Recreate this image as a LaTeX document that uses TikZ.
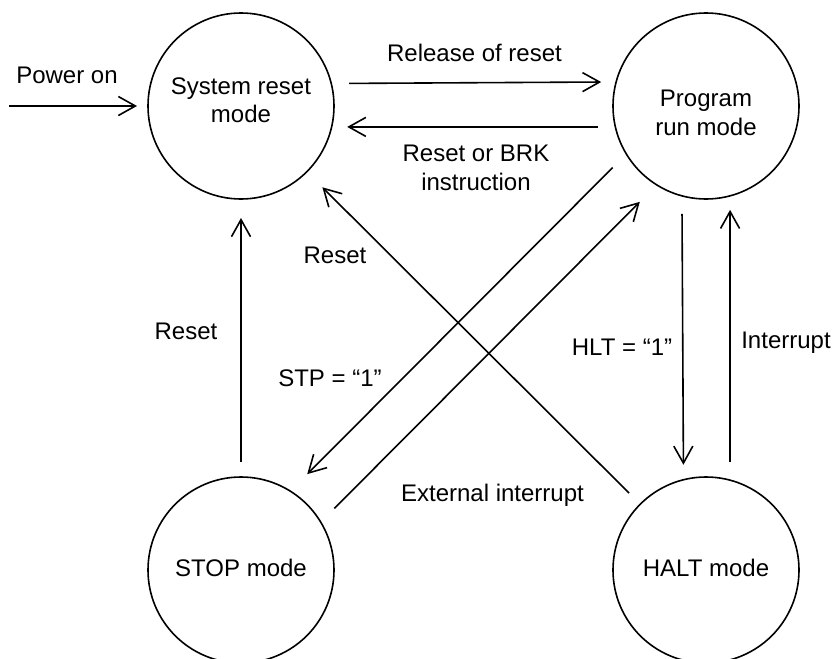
\documentclass[tikz,border=0pt]{standalone}
\usepackage{fontspec}
\setmainfont{Liberation Sans}
\usetikzlibrary{arrows.meta}
\begin{document}
\begin{tikzpicture}[x=0.5pt,y=-0.5pt,
  every node/.style={font=\fontsize{12pt}{14.2pt}\selectfont},
  state/.style={draw, circle, minimum size=93pt, inner sep=0pt, outer sep=0pt, line width=0.8pt},
  lbl/.style={anchor=base, inner sep=0pt},
  conn/.style={line width=0.8pt, -{Straight Barb[length=8.5pt,width=9.5pt]}},
]
\useasboundingbox (0,0) rectangle (836,659);
\clip (0,0) rectangle (836,659);

% states
\node[state, text height=8pt, text depth=19.7pt] (sys) at (241,106)
  {\begin{tabular}[t]{@{}c@{}}System reset\\mode\end{tabular}};
\node[state, text height=10pt, text depth=9.3pt] (prog) at (706,106)
  {\begin{tabular}[t]{@{}c@{}}Program\\run mode\end{tabular}};
\node[state, text height=6.7pt, text depth=0pt] (stop) at (241,570) {STOP mode};
\node[state, text height=6.7pt, text depth=0pt] (halt) at (706,570) {HALT mode};

% connectors
\coordinate (pwr) at (9,106);
\draw[conn, shorten >=5.5pt] (pwr) -- (sys.west);
\draw[conn, shorten <=9pt, shorten >=7.5pt] (sys.14.32) -- (prog.165.68);
\draw[conn, shorten <=8.8pt, shorten >=7.8pt] (prog.193.68) -- (sys.-13.68);
\draw[conn, shorten <=7.5pt, shorten >=9.5pt] (stop.north) -- (sys.south);
\draw[conn, shorten <=7.9pt, shorten >=11pt] (halt.135) -- (sys.-45);
\draw[conn, shorten <=9.6pt, shorten >=12pt] (prog.211.4) -- (stop.58.2);
\draw[conn, shorten <=9.6pt, shorten >=12pt] (stop.31.4) -- (prog.238.2);
\draw[conn, shorten <=9pt, shorten >=7.5pt] (prog.255.7) -- (halt.104.3);
\draw[conn, shorten <=9pt, shorten >=7pt] (halt.75.7) -- (prog.-75.7);

% labels
\node[lbl] (lpwr) at (67,83.3) {Power on};
\node[lbl] (lrel) at (474.5,61.7) {Release of reset};
\node[lbl] (lbrk) at (476,161.7) {\begin{tabular}[t]{@{}c@{}}Reset or BRK\\instruction\end{tabular}};
\node[lbl] (lrst1) at (186,339.5) {Reset};
\node[lbl] (lrst2) at (335,263.3) {Reset};
\node[lbl] (lstp) at (330,386.7) {STP = “1”};
\node[lbl] (lext) at (492.5,501) {External interrupt};
\node[lbl] (lhlt) at (622,355) {HLT = “1”};
\node[lbl] (lint) at (786,348) {Interrupt};
\end{tikzpicture}
\end{document}
